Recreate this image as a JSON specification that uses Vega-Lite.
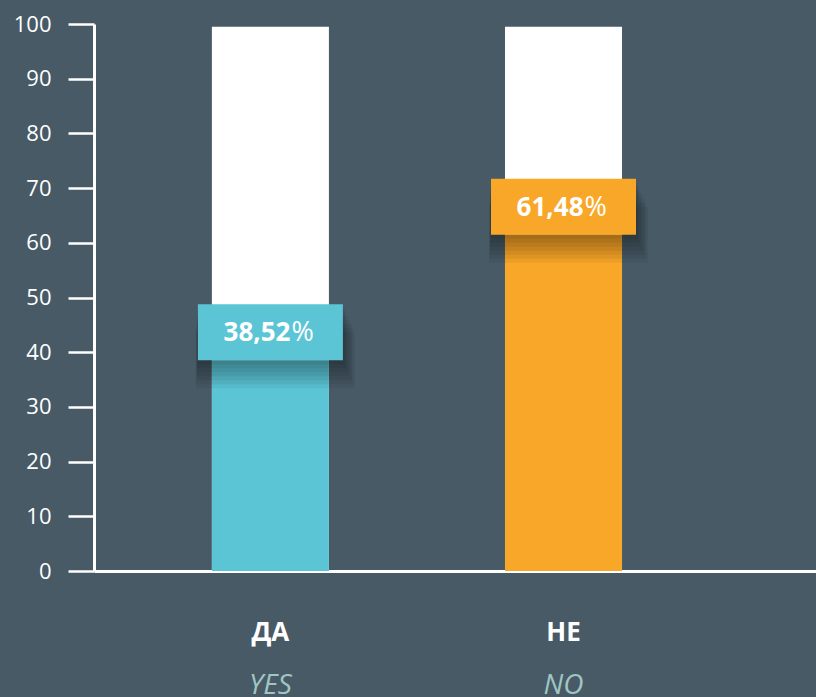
{
  "$schema": "https://vega.github.io/schema/vega-lite/v6.json",
  "width": 722,
  "height": 547,
  "autosize": {"type": "none"},
  "padding": {"left": 94, "top": 24, "right": 0, "bottom": 126},
  "background": "#475a66",
  "config": {
    "view": {"stroke": null},
    "font": "Open Sans",
    "axisY": {"values": [0,10,20,30,40,50,60,70,80,90,100], "grid": false,
      "domainColor": "#ffffff", "domainWidth": 3, "tickColor": "#ffffff", "tickWidth": 2.5, "tickSize": 26,
      "labelFont": "Open Sans", "labelFontSize": 22, "labelColor": "#ffffff", "labelPadding": 17}
  },
  "data": {"values": [
    {"label": "ДА", "en": "YES", "value": 38.52, "total": 99.5, "num": "38,52", "pct": "%"},
    {"label": "НЕ", "en": "NO", "value": 61.48, "total": 99.5, "num": "61,48", "pct": "%"}
  ]},
  "resolve": {"axis": {"x": "independent"}},
  "layer": [
    {
      "mark": {"type": "bar", "color": "#ffffff"},
      "encoding": {
        "x": {"field": "label", "type": "nominal", "sort": null,
          "scale": {"paddingInner": 0.6007, "paddingOuter": 0.532, "align": 0.378, "round": false},
          "axis": {"title": null, "domainColor": "#ffffff", "domainWidth": 3, "ticks": false, "tickSize": 0,
            "labelAngle": 0, "labelFont": "Open Sans", "labelFontSize": 26, "labelFontWeight": "bold",
            "labelColor": "#ffffff", "labelPadding": 48, "labelBaseline": "top"}},
        "y": {"field": "total", "type": "quantitative", "title": null,
          "scale": {"domain": [0, 100], "nice": false, "zero": true}}
      }
    },
    {
      "mark": {"type": "bar"},
      "encoding": {
        "x": {"field": "label", "type": "nominal", "sort": null,
          "axis": {"title": null, "domain": false, "ticks": false, "tickSize": 0, "orient": "bottom",
            "labelAngle": 0, "labelFont": "Open Sans", "labelFontSize": 28, "labelFontStyle": "italic",
            "labelFontWeight": "normal", "labelColor": "#9fc6c3", "labelPadding": 100, "labelBaseline": "top",
            "labelExpr": "datum.label == 'ДА' ? 'YES' : 'NO'"}},
        "y": {"field": "value", "type": "quantitative", "title": null},
        "color": {"field": "label", "type": "nominal", "legend": null,
          "scale": {"domain": ["ДА", "НЕ"], "range": ["#5bc5d6", "#f9a729"]}}
      }
    },
    {
      "mark": {"type": "tick", "color": "#000000", "opacity": 0.055, "size": 159, "thickness": 56, "yOffset": 0, "xOffset": 5},
      "encoding": {"x": {"field": "label", "type": "nominal", "sort": null, "axis": null}, "y": {"field": "value", "type": "quantitative", "title": null}}
    },
    {
      "mark": {"type": "tick", "color": "#000000", "opacity": 0.055, "size": 157, "thickness": 56, "yOffset": -4, "xOffset": 4},
      "encoding": {"x": {"field": "label", "type": "nominal", "sort": null, "axis": null}, "y": {"field": "value", "type": "quantitative", "title": null}}
    },
    {
      "mark": {"type": "tick", "color": "#000000", "opacity": 0.055, "size": 155, "thickness": 56, "yOffset": -8, "xOffset": 4},
      "encoding": {"x": {"field": "label", "type": "nominal", "sort": null, "axis": null}, "y": {"field": "value", "type": "quantitative", "title": null}}
    },
    {
      "mark": {"type": "tick", "color": "#000000", "opacity": 0.055, "size": 153, "thickness": 56, "yOffset": -12, "xOffset": 3},
      "encoding": {"x": {"field": "label", "type": "nominal", "sort": null, "axis": null}, "y": {"field": "value", "type": "quantitative", "title": null}}
    },
    {
      "mark": {"type": "tick", "color": "#000000", "opacity": 0.055, "size": 151, "thickness": 56, "yOffset": -16, "xOffset": 2},
      "encoding": {"x": {"field": "label", "type": "nominal", "sort": null, "axis": null}, "y": {"field": "value", "type": "quantitative", "title": null}}
    },
    {
      "mark": {"type": "tick", "color": "#000000", "opacity": 0.055, "size": 149, "thickness": 56, "yOffset": -20, "xOffset": 1},
      "encoding": {"x": {"field": "label", "type": "nominal", "sort": null, "axis": null}, "y": {"field": "value", "type": "quantitative", "title": null}}
    },
    {
      "mark": {"type": "tick", "color": "#000000", "opacity": 0.055, "size": 147, "thickness": 56, "yOffset": -24, "xOffset": 1},
      "encoding": {"x": {"field": "label", "type": "nominal", "sort": null, "axis": null}, "y": {"field": "value", "type": "quantitative", "title": null}}
    },
    {
      "mark": {"type": "tick", "opacity": 1, "size": 145, "thickness": 56, "yOffset": -28},
      "encoding": {
        "x": {"field": "label", "type": "nominal", "sort": null, "axis": null},
        "y": {"field": "value", "type": "quantitative", "title": null},
        "color": {"field": "label", "type": "nominal", "legend": null}
      }
    },
    {
      "mark": {"type": "text", "font": "Open Sans", "fontSize": 26, "fontWeight": "bold", "color": "#ffffff",
        "align": "right", "baseline": "alphabetic", "dx": 20, "dy": -19},
      "encoding": {
        "x": {"field": "label", "type": "nominal", "sort": null, "axis": null},
        "y": {"field": "value", "type": "quantitative", "title": null},
        "text": {"field": "num"}
      }
    },
    {
      "mark": {"type": "text", "font": "Open Sans", "fontSize": 27, "color": "#ffffff",
        "align": "left", "baseline": "alphabetic", "dx": 21, "dy": -19},
      "encoding": {
        "x": {"field": "label", "type": "nominal", "sort": null, "axis": null},
        "y": {"field": "value", "type": "quantitative", "title": null},
        "text": {"field": "pct"}
      }
    }
  ]
}
